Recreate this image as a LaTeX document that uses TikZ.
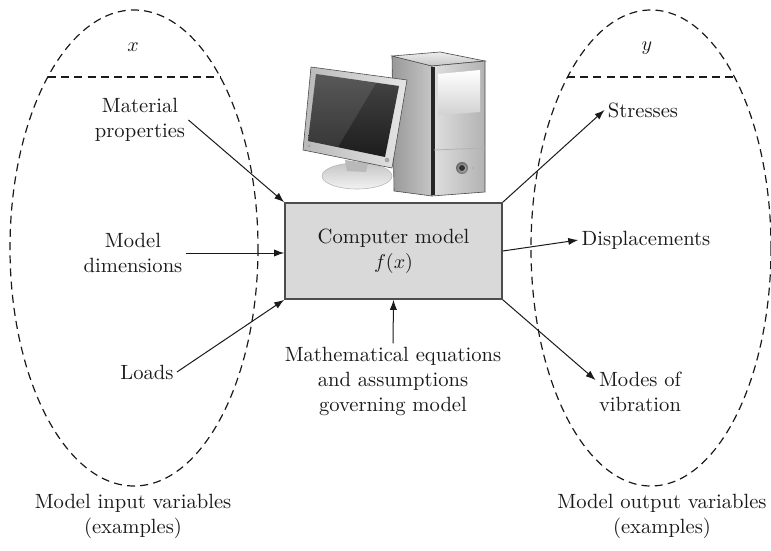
\documentclass[tikz,border=0pt]{standalone}
\usepackage{tikz}
\usetikzlibrary{arrows.meta,positioning,calc}
\definecolor{Ink}{HTML}{1A1A1A}
\definecolor{BoxFill}{HTML}{D9D9D9}
\definecolor{BoxLine}{HTML}{4D4D4D}
\definecolor{Screen}{HTML}{1C1C1C}
\definecolor{Case}{HTML}{BDBDBD}

\begin{document}
\begin{tikzpicture}[x=0.5pt,y=-0.5pt,
  lbl/.style={align=center,text=Ink,font=\fontsize{10.3}{12.5}\selectfont,inner sep=1.5pt},
  modelbox/.style={lbl,draw=BoxLine,fill=BoxFill,line width=0.8pt,minimum width=108.5pt,minimum height=48pt},
  arr/.style={draw=Ink,line width=0.5pt,-{Latex[length=5pt,width=3.6pt]}},
  rim/.style={draw=Ink,line width=0.6pt,dash pattern=on 4pt off 2.6pt}
]
\useasboundingbox (0,0) rectangle (771,551);

% input and output sets
\draw[rim] (134,248) ellipse [x radius=124, y radius=238];
\draw[rim] (48,77) -- (220,77);
\draw[rim] (651,248) ellipse [x radius=120, y radius=238];
\draw[rim] (567,77) -- (736,77);
\node[lbl] (xvar) at (133,47) {$x$};
\node[lbl] (yvar) at (647,48) {$y$};

% tower
\shade[left color=gray!80,right color=gray!45,draw=gray!60!black,line width=0.3pt]
  (392,56) -- (432,66) -- (432,196) -- (394,191) -- cycle;
\shade[top color=gray!15,bottom color=gray!45,draw=gray!60!black,line width=0.3pt]
  (392,56) -- (440,52) -- (485,61) -- (432,66) -- cycle;
\shade[left color=gray!25,right color=gray!60,draw=gray!60!black,line width=0.3pt]
  (432,66) -- (485,61) -- (485,192) -- (432,196) -- cycle;
\draw[gray!30!black,line width=1.6pt] (433,67) -- (433,195);
\shade[top color=white,bottom color=gray!35] (438,74) -- (480,70) -- (480,112) -- (438,115) -- cycle;
\draw[gray!60,line width=0.4pt] (434,150) -- (485,148);
\shade[inner color=gray!30,outer color=gray!80!black] (462,168) circle [radius=6];
\fill[black!80] (462,168) circle [radius=3];
\fill[gray!60] (473,168) circle [radius=1.5];

% monitor
\shade[top color=gray!45,bottom color=gray!10,draw=gray!55,line width=0.3pt]
  (357,176) ellipse [x radius=35, y radius=13];
\fill[gray!55] (345,160) -- (368,163) -- (366,172) -- (347,171) -- cycle;
\shade[left color=gray!55,right color=gray!20,draw=gray!60!black,line width=0.3pt]
  (311,67) -- (407,80) -- (392,168) -- (303,150) -- cycle;
\shade[top color=gray!55!black,bottom color=Screen]
  (316,74) -- (399,86) -- (385,157) -- (308,141) -- cycle;
\fill[white,opacity=0.10] (316,74) -- (376,83) -- (338,147) -- (308,141) -- cycle;
\fill[gray!70] (387,160) circle [radius=2.4];
\fill[gray!70] (309,146) circle [radius=1.5];

% computer model and its inputs and outputs
\node[modelbox] (model) at (393.5,251) {Computer model\\$f(x)$};
\node[lbl] (matprop) at (140,120) {Material\\properties};
\node[lbl] (dims) at (133,253) {Model\\dimensions};
\node[lbl] (loads) at (147,372) {Loads};
\node[lbl] (maths) at (393,381) {Mathematical equations\\and assumptions\\governing model};
\node[lbl] (stresses) at (643,110) {Stresses};
\node[lbl] (disp) at (646,240) {Displacements};
\node[lbl] (modes) at (640,392) {Modes of\\vibration};
\node[lbl] (inputs) at (133,516) {Model input variables\\(examples)};
\node[lbl] (outputs) at (662,516) {Model output variables\\(examples)};

\foreach \a/\b in {matprop.east/model.north west,loads.east/model.south west,maths.north/model.south,
  model.north east/stresses.west,model.east/disp.west,model.south east/modes.165} {
  \draw[arr] (\a) -- (\b);
}
\draw[arr] (dims.east) -- (dims.east -| model.west);
\end{tikzpicture}
\end{document}
